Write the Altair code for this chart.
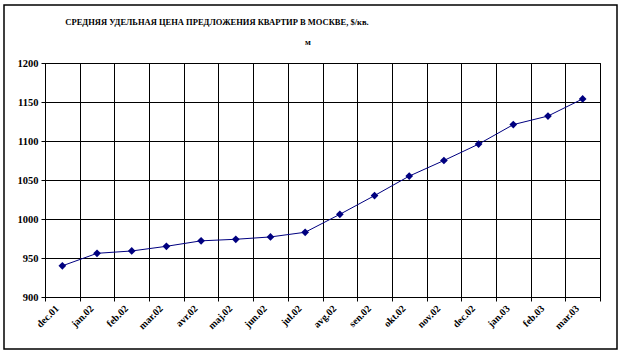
import altair as alt
import pandas as pd

months = ["dec.01", "jan.02", "feb.02", "mar.02", "avr.02", "maj.02", "jun.02", "jul.02",
          "avg.02", "sen.02", "okt.02", "nov.02", "dec.02", "jan.03", "feb.03", "mar.03"]
prices = [940, 956, 959, 965, 972, 974, 977, 983, 1006, 1030, 1055, 1075, 1096, 1121, 1132, 1154]
title_line1 = "СРЕДНЯЯ УДЕЛЬНАЯ ЦЕНА ПРЕДЛОЖЕНИЯ КВАРТИР В МОСКВЕ, $/кв."
title_line2 = "м"
y_ticks = [900, 950, 1000, 1050, 1100, 1150, 1200]

df = pd.DataFrame({"month": months, "price": prices})
FONT = "Liberation Serif"
NAVY = "#000080"

x = alt.X("month:N", sort=months, title=None,
          scale=alt.Scale(paddingInner=0, paddingOuter=0),
          axis=alt.Axis(tickBand="extent", grid=True, gridColor="black", gridOpacity=1,
                        domainColor="black", tickColor="black", tickSize=4,
                        labelAngle=-45, labelAlign="right", labelBaseline="top",
                        labelFont=FONT, labelFontWeight="bold", labelFontSize=10,
                        labelColor="black", labelPadding=2, labelOffset=-9))
y = alt.Y("price:Q", title=None,
          scale=alt.Scale(domain=[900, 1200], nice=False, zero=False),
          axis=alt.Axis(values=y_ticks, format="d", grid=True, gridColor="black", gridOpacity=1,
                        domainColor="black", tickColor="black", tickSize=4,
                        labelFont=FONT, labelFontWeight="bold", labelFontSize=10.5,
                        labelColor="black", labelPadding=3))

base = alt.Chart(df)
line = base.mark_line(color=NAVY, strokeWidth=1).encode(x=x, y=y)
pts = base.mark_point(shape="diamond", filled=True, color=NAVY, size=60, opacity=1).encode(x=x, y=y)

frame = alt.Chart(pd.DataFrame({"a": [0]})).mark_rect(fill=None, stroke="black", strokeWidth=1.5).encode(
    x=alt.value(-41), x2=alt.value(572), y=alt.value(-58), y2=alt.value(286))

t1 = alt.Chart(pd.DataFrame({"t": [title_line1]})).mark_text(
    font=FONT, fontWeight="bold", fontSize=8.5, align="center", baseline="middle", color="black"
).encode(text="t:N", x=alt.value(172), y=alt.value(-41))
t2 = alt.Chart(pd.DataFrame({"t": [title_line2]})).mark_text(
    font=FONT, fontWeight="bold", fontSize=8.5, align="center", baseline="middle", color="black"
).encode(text="t:N", x=alt.value(263), y=alt.value(-21))

chart = alt.layer(frame, line, pts, t1, t2).properties(
    width=555, height=234,
    autosize=alt.AutoSizeParams(type="none"),
    padding={"left": 45, "top": 63, "right": 23, "bottom": 58},
    background="white",
).configure_view(stroke="black", strokeWidth=1)

chart.save("out.html", embed_options={"renderer": "svg", "actions": False})
